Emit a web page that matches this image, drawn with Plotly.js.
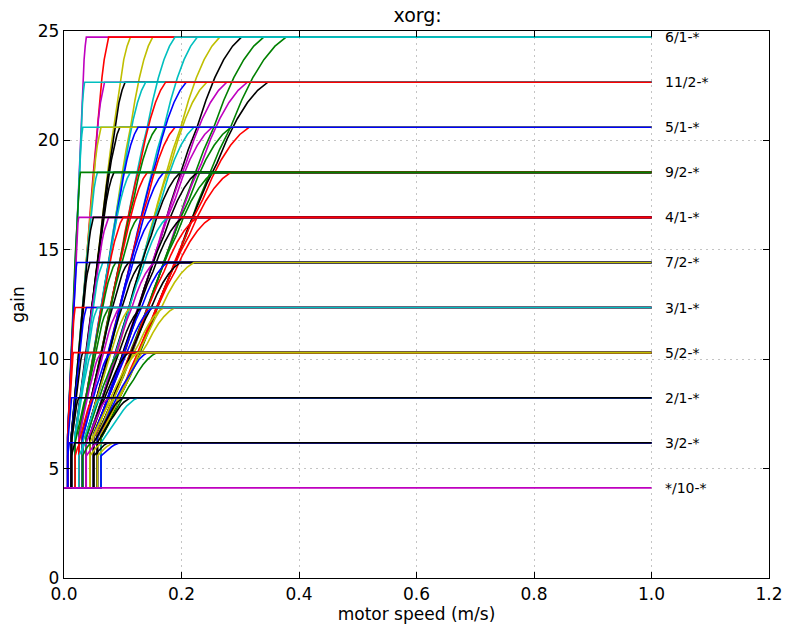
<!DOCTYPE html>
<html>
<head>
<meta charset="utf-8">
<script src="https://cdn.plot.ly/plotly-3.0.1.min.js"></script>
<style>
  html, body { margin: 0; padding: 0; background: #ffffff; }
  #chart { width: 788px; height: 625px; }
</style>
</head>
<body>
<div id="chart"></div>
<script>
// Acceleration settings (numerator/denominator - any threshold) and the gain each one levels off at
const levelLabels = ['6/1-*', '11/2-*', '5/1-*', '9/2-*', '4/1-*', '7/2-*', '3/1-*', '5/2-*', '2/1-*', '3/2-*'];
const plateauGain = [24.72, 22.66, 20.60, 18.54, 16.48, 14.42, 12.36, 10.30, 8.24, 6.18];
const flatLabel = '*/10-*';
const baseGain = 4.12;

// Motor speed where each threshold curve (threshold 1..10) leaves the base gain
const thresholdSpeed = [0.0063, 0.0126, 0.0189, 0.0252, 0.0315, 0.0378, 0.0441, 0.0504, 0.0567, 0.0630];

// Gain reached by the step at the threshold, per acceleration level
const stepGain = [6.38, 6.42, 6.47, 6.51, 6.54, 6.55, 6.53, 6.43, 6.18, 5.58];

// Motor speed where each threshold curve reaches its plateau, per level
const saturationSpeed = [
  [0.038, 0.076, 0.113, 0.151, 0.189, 0.227, 0.265, 0.302, 0.340, 0.378],
  [0.035, 0.069, 0.104, 0.139, 0.173, 0.208, 0.243, 0.277, 0.312, 0.347],
  [0.032, 0.063, 0.095, 0.126, 0.158, 0.189, 0.221, 0.252, 0.284, 0.315],
  [0.028, 0.057, 0.085, 0.113, 0.142, 0.170, 0.198, 0.227, 0.255, 0.284],
  [0.025, 0.050, 0.076, 0.101, 0.126, 0.151, 0.176, 0.202, 0.227, 0.252],
  [0.022, 0.044, 0.066, 0.088, 0.110, 0.132, 0.154, 0.176, 0.198, 0.221],
  [0.019, 0.038, 0.057, 0.076, 0.095, 0.113, 0.132, 0.151, 0.170, 0.189],
  [0.016, 0.032, 0.047, 0.063, 0.079, 0.095, 0.110, 0.126, 0.142, 0.158],
  [0.013, 0.025, 0.038, 0.050, 0.063, 0.076, 0.088, 0.101, 0.113, 0.126],
  [0.009, 0.019, 0.028, 0.038, 0.047, 0.057, 0.066, 0.076, 0.085, 0.095]
];

// Line colour of each threshold curve, per level (matplotlib single-letter codes)
const curveColors = [
  ['m', 'r', 'y', 'y', 'c', 'c', 'y', 'k', 'g', 'g'],
  ['c', 'm', 'k', 'c', 'r', 'b', 'y', 'm', 'm', 'k'],
  ['c', 'y', 'k', 'b', 'g', 'r', 'c', 'm', 'g', 'r'],
  ['g', 'c', 'k', 'c', 'r', 'b', 'k', 'k', 'g', 'r'],
  ['m', 'k', 'm', 'r', 'g', 'b', 'c', 'k', 'r', 'r'],
  ['b', 'k', 'c', 'g', 'k', 'k', 'm', 'b', 'k', 'y'],
  ['r', 'b', 'c', 'g', 'm', 'y', 'k', 'b', 'y', 'y'],
  ['r', 'k', 'c', 'm', 'b', 'g', 'k', 'y', 'b', 'g'],
  ['b', 'k', 'g', 'r', 'c', 'm', 'y', 'k', 'k', 'c'],
  ['b', 'k', 'r', 'c', 'g', 'm', 'y', 'k', 'y', 'b']
];

// Order in which the curves of a level are drawn (the last one lies on top)
const drawOrder = [
  [2, 3, 6, 7, 8, 9, 0, 1, 4, 5],
  [1, 2, 5, 6, 7, 8, 9, 0, 3, 4],
  [2, 4, 5, 6, 7, 8, 9, 0, 1, 3],
  [1, 2, 3, 4, 5, 6, 7, 8, 9, 0],
  [2, 4, 5, 6, 7, 8, 9, 0, 1, 3],
  [2, 3, 4, 5, 6, 7, 8, 0, 1, 9],
  [3, 4, 5, 6, 7, 8, 9, 0, 1, 2],
  [1, 2, 3, 4, 5, 6, 8, 9, 0, 7],
  [2, 3, 4, 5, 6, 7, 8, 9, 0, 1],
  [2, 3, 4, 5, 6, 7, 8, 9, 0, 1]
];

// Smooth ramp: share of the rise reached at a given share of the saturation speed
const rampSpeedShare = [0.20, 0.25, 0.30, 0.35, 0.40, 0.45, 0.50, 0.55, 0.60, 0.65, 0.70, 0.75, 0.80, 0.85, 0.90, 0.95, 1.00];
const rampRiseShare  = [0.14, 0.20, 0.25, 0.31, 0.37, 0.44, 0.50, 0.56, 0.63, 0.69, 0.75, 0.80, 0.86, 0.91, 0.95, 0.98, 1.00];

const speedEnd = 1.0;

const palette = {
  b: '#0000ff', g: '#008000', r: '#ff0000', c: '#00bfbf',
  m: '#bf00bf', y: '#bfbf00', k: '#000000'
};

const traces = [];
function addCurve(level, n) {
  const top = plateauGain[level];
  const thr = thresholdSpeed[n];
  const sat = saturationSpeed[level][n];
  const step = stepGain[level];
  const x = [0, thr, thr];
  const y = [baseGain, baseGain, step];
  for (let i = 0; i < rampSpeedShare.length; i++) {
    const xi = rampSpeedShare[i] * sat;
    const yi = baseGain + rampRiseShare[i] * (top - baseGain);
    if (xi > thr && yi > step) { x.push(xi); y.push(yi); }
  }
  x.push(speedEnd); y.push(top);
  traces.push({
    type: 'scatter', mode: 'lines', x: x, y: y,
    line: { color: palette[curveColors[level][n]], width: 1.6 },
    hoverinfo: 'skip', showlegend: false
  });
}

for (let level = 0; level < levelLabels.length; level++) {
  drawOrder[level].forEach(n => addCurve(level, n));
}

// The */10 setting never leaves the base gain
traces.push({
  type: 'scatter', mode: 'lines', x: [0, speedEnd], y: [baseGain, baseGain],
  line: { color: palette.m, width: 1.6 }, hoverinfo: 'skip', showlegend: false
});

const font = { family: 'DejaVu Sans, sans-serif', color: '#000000' };

const annotations = levelLabels.map((t, i) => ({
  x: 1.02, y: plateauGain[i], xref: 'x', yref: 'y', text: t,
  showarrow: false, xanchor: 'left', yanchor: 'middle',
  font: Object.assign({}, font, { size: 14 })
}));
annotations.push({
  x: 1.02, y: baseGain, xref: 'x', yref: 'y', text: flatLabel,
  showarrow: false, xanchor: 'left', yanchor: 'middle',
  font: Object.assign({}, font, { size: 14 })
});

const axisCommon = {
  showline: true, linecolor: '#000000', linewidth: 1.3, mirror: 'ticks',
  ticks: 'inside', ticklen: 6, tickwidth: 1, tickcolor: '#000000',
  showgrid: true, gridcolor: '#c4c4c4', gridwidth: 1, griddash: '2px,4px',
  zeroline: false, tickfont: Object.assign({}, font, { size: 17 })
};

const layout = {
  width: 788, height: 625,
  margin: { l: 64, r: 19, t: 31, b: 47 },
  paper_bgcolor: '#ffffff', plot_bgcolor: '#ffffff',
  title: { text: 'xorg:', font: Object.assign({}, font, { size: 19 }), x: 0.53, xanchor: 'center', y: 0.976, yanchor: 'middle' },
  xaxis: Object.assign({}, axisCommon, {
    range: [0, 1.2], tickvals: [0, 0.2, 0.4, 0.6, 0.8, 1.0, 1.2], tickformat: '.1f',
    title: { text: 'motor speed (m/s)', font: Object.assign({}, font, { size: 17 }), standoff: 5 }
  }),
  yaxis: Object.assign({}, axisCommon, {
    range: [0, 25], tickvals: [0, 5, 10, 15, 20, 25],
    title: { text: 'gain', font: Object.assign({}, font, { size: 17 }), standoff: 8 }
  }),
  annotations: annotations,
  showlegend: false
};

Plotly.newPlot('chart', traces, layout, { staticPlot: true, displayModeBar: false });
</script>
</body>
</html>
